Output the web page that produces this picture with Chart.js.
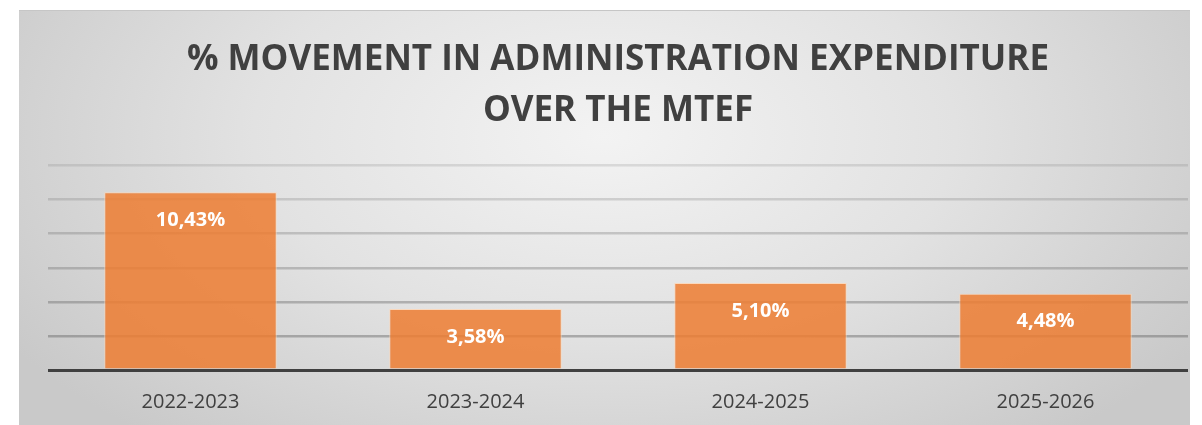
<!DOCTYPE html>
<html>
<head>
<meta charset="utf-8">
<script src="https://cdn.jsdelivr.net/npm/chart.js@4/dist/chart.umd.min.js"></script>
<style>
    html, body { margin: 0; padding: 0; background: #fff; }
    .chart-box {
        position: absolute;
        left: 19px;
        top: 10px;
        width: 1171px;
        height: 415px;
        border-top: 1px solid #c6c6c6;
        background: radial-gradient(ellipse 60% 95% at 50% 30%, #f3f3f3 0%, #e2e2e2 50%, #c9c9c9 100%);
    }
</style>
</head>
<body>
<div class="chart-box">
    <canvas id="movementChart" width="1171" height="414"></canvas>
</div>
<script>
const periods = ['2022-2023', '2023-2024', '2024-2025', '2025-2026'];
const movement = [10.43, 3.58, 5.10, 4.48];
const titleLines = ['% MOVEMENT IN ADMINISTRATION EXPENDITURE', 'OVER THE MTEF'];

// percentage written Excel-style with a decimal comma
const fmtPct = v => v.toFixed(2).replace('.', ',') + '%';

const valueLabels = {
    id: 'valueLabels',
    afterDatasetsDraw(chart) {
        const ctx = chart.ctx;
        const meta = chart.getDatasetMeta(0);
        ctx.save();
        ctx.font = 'bold 20px "Open Sans"';
        ctx.fillStyle = '#ffffff';
        ctx.textAlign = 'center';
        ctx.textBaseline = 'middle';
        meta.data.forEach((bar, i) => {
            ctx.fillText(fmtPct(movement[i]), bar.x, bar.y + 28);
        });
        ctx.restore();
    }
};

function renderChart() {
    const ctx = document.getElementById('movementChart').getContext('2d');
    new Chart(ctx, {
        type: 'bar',
        data: {
            labels: periods,
            datasets: [{
                label: '% movement',
                data: movement,
                backgroundColor: 'rgba(237, 125, 49, 0.85)',
                borderColor: 'rgba(255, 214, 180, 0.8)',
                borderWidth: 1,
                categoryPercentage: 1,
                barPercentage: 0.605
            }]
        },
        options: {
            responsive: false,
            animation: false,
            layout: { padding: { left: 29, right: 2, top: 0, bottom: -9 } },
            plugins: {
                legend: { display: false },
                tooltip: { enabled: false },
                title: {
                    display: true,
                    fullSize: false,
                    text: titleLines,
                    color: '#404040',
                    font: { family: 'Open Sans', size: 35, weight: 'bold', lineHeight: 1.45 },
                    padding: { top: 24, bottom: 29 }
                }
            },
            scales: {
                x: {
                    grid: { display: false, drawTicks: false },
                    border: { display: false },
                    ticks: {
                        color: '#404040',
                        font: { family: 'Open Sans', size: 20 },
                        padding: 20
                    }
                },
                y: {
                    min: 0,
                    max: 12,
                    ticks: { display: false, stepSize: 2 },
                    border: { display: false },
                    grid: {
                        drawTicks: false,
                        color: c => c.tick.value === 0 ? '#404040' : 'rgba(110, 110, 110, ' + (0.55 - c.tick.value * 0.03) + ')',
                        lineWidth: c => c.tick.value === 0 ? 3 : 2.5
                    }
                }
            }
        },
        plugins: [valueLabels]
    });
}

renderChart();
</script>
</body>
</html>
